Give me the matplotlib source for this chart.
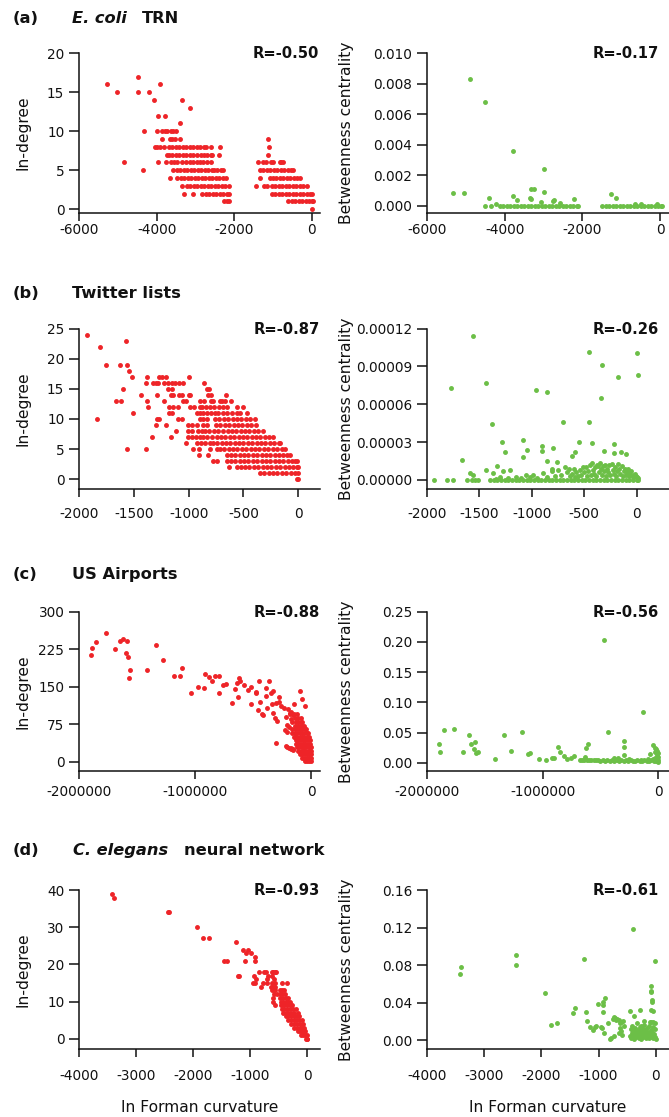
import matplotlib
matplotlib.use("Agg")
import matplotlib.pyplot as plt
from matplotlib.ticker import FixedLocator, FixedFormatter

RED = "#EE2428"
GREEN = "#6CBF47"

# ---------------- (a) E. coli TRN ----------------
# in-degree -> Forman curvature values of nodes with that in-degree
ecoli_indeg_rows = {
    17: [-4487],
    16: [-5290, -3923],
    15: [-5008, -4470, -4188],
    14: [-4077, -3340],
    13: [-3145],
    12: [-3966, -3795],
    11: [-3402],
    10: [-4316, -3992, -3848, -3784, -3720, -3633, -3569, -3505],
    9: [-3872, -3651, -3591, -3531, -3402, -1137],
    8: [-4043, -3980, -3900, -3820, -3676, -3590, -3500, -3410, -3320, -3230, -3140,
        -3050, -2960, -2870, -2780, -2735, -2607, -2369, -1103],
    7: [-3736, -3676, -3590, -3500, -3410, -3320, -3230, -3140, -3050, -2960, -2864,
        -2779, -2690, -2600, -2564, -2395, -1128],
    6: [-4838, -3975, -3761, -3633, -3550, -3461, -3333, -3240, -3150, -3060, -2970,
        -2880, -2790, -2700, -2607, -1385, -1248, -1188, -1051, -1000, -829, -786, -744],
    5: [-4342, -3564, -3480, -3390, -3300, -3210, -3120, -3030, -2940, -2850, -2760,
        -2670, -2580, -2523, -2436, -2350, -2282, -1342, -1250, -1160, -1070, -980,
        -890, -800, -710, -620, -530, -470],
    4: [-3659, -3461, -3370, -3280, -3190, -3100, -3010, -2920, -2830, -2740, -2650,
        -2560, -2470, -2380, -2290, -2197, -1342, -1085, -1000, -910, -820, -730,
        -640, -550, -460, -370, -300],
    3: [-3351, -3223, -3130, -3040, -2950, -2860, -2770, -2680, -2590, -2500, -2410,
        -2320, -2230, -2120, -1436, -1240, -1150, -1025, -940, -850, -760, -670,
        -580, -490, -400, -310, -220, -128],
    2: [-3282, -3051, -2820, -2730, -2640, -2550, -2460, -2370, -2280, -2190, -2120,
        -1025, -940, -850, -760, -670, -580, -490, -400, -310, -220, -130, -40, 0],
    1: [-2249, -2180, -2120, -600, -510, -420, -330, -240, -150, -60, 20, 43],
    0: [0],
}
# (curvature, betweenness)
ecoli_btw_points = [
    (-5332, 0.00085), (-5048, 0.00085), (-4885, 0.00832), (-4515, 0.0), (-4498, 0.0068),
    (-4395, 0.00053), (-4360, 0.0), (-4225, 0.0001), (-3784, 0.00359), (-3784, 0.00063),
    (-3680, 0.00035), (-3354, 0.00053), (-3311, 0.0011), (-3234, 0.0011), (-3320, 0.00044),
    (-3053, 0.00022), (-2976, 0.0024), (-2976, 0.0009), (-2752, 0.0003), (-2735, 0.0004),
    (-2571, 0.00015), (-2219, 0.00044), (-1273, 0.00079), (-1135, 0.00048), (-640, 0.0001),
    (-490, 0.0001), (-80, 0.0001),
]
# nodes with betweenness ~0 (curvature values)
ecoli_btw_zero = [-4130, -4040, -3950, -3860, -3770, -3680, -3590, -3500, -3410, -3320,
                  -3230, -3140, -3050, -2960, -2870, -2780, -2690, -2600, -2510, -2420,
                  -2330, -2240, -2150, -2124,
                  -1490, -1400, -1310, -1220, -1130, -1040, -950, -860, -770, -680, -590,
                  -500, -410, -320, -230, -140, -50, 20, 43]

# ---------------- (b) Twitter lists ----------------
twitter_indeg_rows = {
    24: [-1930],
    23: [-1572],
    22: [-1812],
    19: [-1751, -1626, -1563],
    18: [-1547],
    17: [-1520, -1380, -1274, -1240, -1207, -997],
    16: [-1392, -1325, -1301, -1277, -1225, -1190, -1155, -1120, -1085, -1055, -860],
    15: [-1596, -1186, -1155, -836, -812],
    14: [-1435, -1286, -1161, -1140, -1091, -1058, -1000, -988, -821, -800, -663],
    13: [-1666, -1620, -1380, -1222, -1049, -1027, -897, -860, -800, -774, -714, -693, -668, -616],
    12: [-1371, -1180, -1140, -1094, -988, -950, -897, -880, -843, -804, -765, -725, -683,
         -652, -556, -501],
    11: [-1505, -1180, -1155, -927, -895, -865, -834, -800, -759, -729, -690, -650, -607,
         -556, -531, -471],
    10: [-1839, -1286, -1271, -1094, -1064, -897, -865, -834, -759, -720, -680, -640, -600,
         -560, -520, -480, -440, -394],
    9: [-1298, -1207, -1003, -965, -927, -865, -834, -749, -710, -670, -630, -590, -550,
        -510, -470, -430, -385],
    8: [-1119, -1003, -965, -912, -882, -850, -810, -770, -730, -683, -645, -605, -565,
        -525, -485, -445, -405, -365, -319],
    7: [-1332, -1164, -1003, -965, -930, -897, -866, -834, -789, -743, -705, -665, -625,
        -585, -545, -505, -465, -425, -385, -345, -305, -265, -228],
    6: [-1024, -927, -890, -850, -806, -774, -743, -698, -660, -620, -580, -540, -500,
        -460, -420, -380, -340, -300, -260, -220, -180, -166],
    5: [-1563, -1392, -958, -903, -804, -745, -713, -675, -635, -595, -555, -515, -475,
        -435, -395, -355, -315, -275, -235, -195, -151, -122],
    4: [-903, -819, -654, -615, -575, -535, -495, -455, -415, -375, -335, -295, -255,
        -215, -175, -135, -100, -76],
    3: [-775, -745, -654, -615, -575, -535, -495, -455, -415, -375, -335, -295, -255,
        -215, -175, -135, -95, -55, -30, -14],
    2: [-629, -561, -525, -485, -445, -405, -365, -325, -285, -245, -205, -165, -125,
        -85, -45, -9, 0],
    1: [-350, -310, -270, -230, -190, -150, -110, -70, -30, 0],
    0: [-15, 0],
}
# (curvature, betweenness in units of 1e-6)
twitter_btw_points = [
    (-1774, 73.2), (-1663, 16.1), (-1593, 5.3), (-1565, 4.2), (-1558, 114.2), (-1441, 77.2),
    (-1437, 8.2), (-1383, 44.1), (-1367, 5.8), (-1329, 11.1), (-1285, 30.1), (-1272, 7.4),
    (-1256, 22.2), (-1205, 7.9), (-1088, 32.0), (-1088, 18.2), (-1049, 24.0), (-1056, 4.2),
    (-993, 4.2), (-960, 71.1), (-903, 27.2), (-903, 23.0), (-897, 5.5), (-859, 70.0),
    (-852, 15.1), (-795, 25.1), (-811, 8.5), (-805, 7.4), (-763, 14.0), (-700, 46.3),
    (-747, 7.9), (-680, 10.6), (-650, 8.5), (-617, 19.3), (-588, 22.2), (-547, 30.1),
    (-455, 101.2), (-455, 46.3), (-426, 29.3), (-343, 65.3), (-331, 91.2), (-315, 23.3),
    (-216, 28.3), (-219, 21.4), (-181, 81.2), (-146, 22.2), (-102, 20.4), (0, 100.2), (16, 83.0),
    (-1340, 1), (-1300, 2), (-1230, 1.5), (-1150, 2), (-1100, 1.5), (-1020, 2.5), (-950, 1.5),
    (-860, 2), (-780, 3), (-720, 4), (-665, 6), (-640, 3), (-620, 5), (-600, 9), (-590, 2),
    (-575, 6), (-560, 3), (-545, 8), (-530, 4), (-515, 10), (-500, 6), (-487, 10.6), (-475, 3),
    (-460, 7), (-450, 12), (-440, 4), (-429, 13.2), (-420, 8), (-410, 5), (-400, 10), (-390, 3),
    (-380, 12), (-366, 11), (-355, 6), (-350, 13.7), (-340, 9), (-330, 4), (-320, 11), (-310, 7),
    (-300, 12), (-290, 3), (-280, 9), (-270, 6), (-260, 12), (-250, 4), (-238, 12.7), (-228, 8),
    (-215, 5), (-205, 10), (-195, 3), (-185, 7), (-175, 13), (-165, 9), (-155, 5), (-145, 11),
    (-135, 3), (-125, 7), (-115, 8.5), (-105, 4), (-95, 6), (-85, 9), (-75, 3), (-65, 5),
    (-50, 7), (-40, 2), (-30, 4), (-20, 5), (-10, 3), (0, 2), (8, 1.5),
]
twitter_btw_zero = [-1930, -1806, -1749, -1622, -1574, -1540, -1510,
                    -1400, -1365, -1330, -1295, -1260, -1225, -1190, -1155, -1120, -1085, -1050,
                    -1015, -980, -945, -910, -875, -840, -805, -770, -735, -700, -665, -630,
                    -595, -560, -525, -490, -455, -420, -385, -350, -315, -280, -245, -210,
                    -175, -140, -105, -70, -35, 0, 10]

# ---------------- (c) US Airports (curvature in thousands) ----------------
airport_indeg_points = [
    (-1897, 214), (-1891, 227), (-1854, 240), (-1770, 257), (-1693, 226), (-1644, 241),
    (-1621, 245), (-1589, 241), (-1595, 217), (-1578, 210), (-1561, 183), (-1569, 167),
    (-1417, 183), (-1336, 233), (-1279, 203), (-1184, 171), (-1127, 171), (-1115, 188),
    (-1035, 137), (-977, 150), (-923, 147), (-917, 176), (-877, 170), (-854, 161),
    (-825, 172), (-790, 172), (-793, 137), (-759, 153), (-733, 155), (-681, 118),
    (-658, 145), (-638, 158), (-629, 130), (-621, 168), (-609, 162), (-575, 153),
    (-540, 143), (-514, 150), (-520, 116), (-477, 140), (-470, 137), (-457, 103),
    (-445, 162), (-437, 119), (-422, 96), (-414, 94), (-391, 131), (-391, 147),
    (-382, 107), (-359, 162), (-345, 138), (-336, 115), (-330, 141), (-325, 97),
    (-310, 87), (-296, 81), (-305, 37), (-299, 117), (-279, 130), (-273, 119),
    (-256, 112), (-236, 107), (-227, 63), (-218, 90), (-213, 32), (-204, 73),
    (-181, 97), (-175, 27), (-167, 57), (-152, 93), (-144, 115), (-152, 25),
    (-98, 141), (-80, 125), (-49, 111),
    (-200, 105), (-185, 95), (-170, 100), (-175, 85), (-160, 80), (-190, 70), (-210, 60),
    (-165, 65), (-150, 50), (-210, 30), (-190, 28), (-175, 25), (-155, 23),
    (-150, 95), (-120, 95), (-135, 88), (-110, 88), (-90, 88),
    (-130, 80), (-110, 80), (-90, 80), (-75, 80),
    (-135, 72), (-115, 72), (-95, 72), (-75, 72), (-60, 72),
    (-135, 65), (-115, 65), (-95, 65), (-75, 65), (-55, 65), (-45, 65),
    (-138, 58), (-118, 58), (-98, 58), (-78, 58), (-58, 58), (-38, 58), (-25, 58),
    (-138, 50), (-118, 50), (-98, 50), (-78, 50), (-58, 50), (-38, 50), (-18, 50),
    (-132, 43), (-112, 43), (-92, 43), (-72, 43), (-52, 43), (-32, 43), (-12, 43),
    (-128, 36), (-108, 36), (-88, 36), (-68, 36), (-48, 36), (-28, 36), (-8, 36),
    (-120, 29), (-100, 29), (-80, 29), (-60, 29), (-40, 29), (-20, 29), (0, 29),
    (-108, 22), (-88, 22), (-68, 22), (-48, 22), (-28, 22), (-8, 22), (3, 22),
    (-95, 15), (-75, 15), (-55, 15), (-35, 15), (-15, 15), (2, 15),
    (-78, 8), (-58, 8), (-38, 8), (-18, 8), (0, 8),
    (-55, 2), (-35, 2), (-15, 2), (0, 2),
]
airport_btw_points = [
    (-1893, 0.0309), (-1888, 0.0182), (-1853, 0.0541), (-1770, 0.0552), (-1692, 0.0182),
    (-1640, 0.0464), (-1620, 0.0309), (-1588, 0.0348), (-1594, 0.0226), (-1576, 0.0155),
    (-1559, 0.0182), (-1409, 0.0055), (-1331, 0.0464), (-1277, 0.0193), (-1179, 0.0502),
    (-1124, 0.0143), (-1110, 0.0155), (-1029, 0.0055), (-974, 0.0044), (-916, 0.0072),
    (-905, 0.0077), (-870, 0.0265), (-850, 0.0182), (-818, 0.011), (-787, 0.0055),
    (-752, 0.0083), (-726, 0.011), (-634, 0.0099), (-622, 0.0243), (-608, 0.0315),
    (-470, 0.2031), (-438, 0.0502), (-300, 0.0353), (-300, 0.0254), (-300, 0.0127),
    (-135, 0.0844), (-72, 0.0143), (-43, 0.0293), (-30, 0.024), (-20, 0.022), (-25, 0.018),
    (-677, 0.005), (-660, 0.004), (-640, 0.005), (-620, 0.004), (-600, 0.004), (-580, 0.005),
    (-560, 0.004), (-540, 0.004), (-520, 0.005), (-500, 0.003), (-480, 0.004), (-460, 0.003),
    (-440, 0.004), (-420, 0.003), (-400, 0.004), (-380, 0.003), (-360, 0.004), (-340, 0.002),
    (-320, 0.005), (-300, 0.003), (-280, 0.004), (-260, 0.002), (-240, 0.004), (-220, 0.003),
    (-200, 0.002), (-180, 0.004), (-160, 0.003), (-140, 0.002), (-120, 0.004), (-100, 0.003),
    (-80, 0.002), (-60, 0.004), (-40, 0.002), (-20, 0.003), (0, 0.001), (-30, 0.008),
    (-15, 0.012), (-10, 0.006), (-5, 0.016), (-8, 0.02), (0, 0.01), (-2, 0.004), (-25, 0.005),
    (-50, 0.006), (-90, 0.006), (-150, 0.005), (-250, 0.006), (-350, 0.007), (-380, 0.008),
]

# ---------------- (d) C. elegans neural network ----------------
celegans_indeg_rows = {
    39: [-3422],
    38: [-3393],
    34: [-2447, -2429],
    30: [-1933],
    27: [-1828, -1723],
    26: [-1250],
    24: [-1133, -1040],
    23: [-1075, -993],
    22: [-923],
    21: [-1454, -1402, -1092, -911],
    18: [-841, -753, -730, -625, -600, -570, -543],
    17: [-1220, -1203, -928, -683, -620],
    16: [-899, -712, -590],
    15: [-946, -923, -783, -700, -620, -560, -438, -356],
    14: [-806, -640, -600, -570],
    13: [-620, -590, -560, -480, -440, -400],
    12: [-590, -530, -479, -440, -391],
    11: [-600, -470, -420, -370, -340],
    10: [-607, -465, -420, -380, -340, -300],
    9: [-561, -455, -410, -360, -310, -260],
    8: [-450, -400, -350, -300, -250, -200],
    7: [-430, -380, -330, -280, -230, -170],
    6: [-380, -330, -280, -230, -180, -140],
    5: [-340, -290, -240, -190, -140, -100],
    4: [-280, -230, -180, -130, -80],
    3: [-230, -180, -130, -90, -55],
    2: [-170, -130, -90, -60, -35],
    1: [-110, -70, -40, -10],
    0: [-30, -10, 0],
}
celegans_btw_points = [
    (-3428, 0.0706), (-3399, 0.0784), (-2447, 0.0912), (-2447, 0.0802), (-1939, 0.0507),
    (-1834, 0.0163), (-1723, 0.0181), (-1454, 0.0291), (-1413, 0.0341), (-1256, 0.0869),
    (-1221, 0.0298), (-1209, 0.0209), (-1145, 0.0142), (-1104, 0.0114), (-1069, 0.0138),
    (-1040, 0.0153), (-1005, 0.039), (-929, 0.0376), (-917, 0.0408), (-929, 0.0298),
    (-964, 0.014), (-934, 0.0128), (-905, 0.0082), (-882, 0.045), (-841, 0.0184),
    (-794, 0.001), (-777, 0.002), (-753, 0.023), (-735, 0.025), (-720, 0.024), (-700, 0.022),
    (-683, 0.023), (-724, 0.0043), (-642, 0.022), (-625, 0.018), (-625, 0.013), (-640, 0.008),
    (-610, 0.01), (-600, 0.02), (-590, 0.006), (-575, 0.021), (-560, 0.015), (-455, 0.0312),
    (-391, 0.1185), (-380, 0.0259), (-280, 0.0326), (-82, 0.058), (-82, 0.052), (-78, 0.053),
    (-58, 0.043), (-58, 0.041), (-82, 0.032), (-41, 0.031), (-12, 0.0848),
    (-450, 0.005), (-440, 0.012), (-430, 0.002), (-420, 0.008), (-410, 0.015), (-400, 0.004),
    (-390, 0.01), (-380, 0.001), (-370, 0.006), (-360, 0.013), (-350, 0.003), (-340, 0.009),
    (-330, 0.018), (-320, 0.005), (-310, 0.011), (-300, 0.002), (-290, 0.007), (-280, 0.014),
    (-270, 0.004), (-260, 0.01), (-250, 0.001), (-240, 0.006), (-230, 0.012), (-220, 0.003),
    (-210, 0.009), (-200, 0.016), (-190, 0.005), (-180, 0.011), (-170, 0.002), (-160, 0.007),
    (-150, 0.013), (-140, 0.004), (-130, 0.009), (-120, 0.015), (-110, 0.002), (-100, 0.007),
    (-90, 0.011), (-80, 0.019), (-70, 0.004), (-60, 0.009), (-50, 0.014), (-40, 0.002),
    (-30, 0.007), (-20, 0.012), (-10, 0.004), (0, 0.001), (-15, 0.018), (-45, 0.02),
    (-100, 0.019), (-200, 0.021), (-330, 0.009), (-250, 0.015),
]

r_left = ["R=-0.50", "R=-0.87", "R=-0.88", "R=-0.93"]
r_right = ["R=-0.17", "R=-0.26", "R=-0.56", "R=-0.61"]


def rows_to_xy(rows):
    xs, ys = [], []
    for k, vals in rows.items():
        for v in vals:
            xs.append(v)
            ys.append(k)
    return xs, ys


def pairs_to_xy(pairs, xscale=1.0, yscale=1.0):
    return [p[0] * xscale for p in pairs], [p[1] * yscale for p in pairs]


W, H = 669, 1117
plt.rcParams['font.family'] = ['DejaVu Sans']
fig = plt.figure(figsize=(W / 100, H / 100), dpi=100)

TICK_FS = 9.8
LAB_FS = 11.2
TITLE_FS = 11.7
R_FS = 10.6
INK = "#111111"


def make_axes(x0, w, top, bottom, xpad):
    ax = fig.add_axes([x0 / W, 1 - bottom / H, w / W, (bottom - top) / H])
    for s in ("top", "right"):
        ax.spines[s].set_visible(False)
    for s in ("left", "bottom"):
        ax.spines[s].set_linewidth(1.1)
        ax.spines[s].set_color(INK)
    ax.tick_params(axis="y", direction="out", length=7, width=1.1, labelsize=TICK_FS, pad=3.5,
                   color=INK, labelcolor=INK)
    ax.tick_params(axis="x", direction="out", length=5.5, width=1.1, labelsize=TICK_FS,
                   pad=xpad, color=INK, labelcolor=INK)
    ax.patch.set_alpha(0)
    return ax


def set_ticks(ax, xt, xl, yt, yl):
    ax.xaxis.set_major_locator(FixedLocator(xt))
    ax.xaxis.set_major_formatter(FixedFormatter(xl))
    ax.yaxis.set_major_locator(FixedLocator(yt))
    ax.yaxis.set_major_formatter(FixedFormatter(yl))


MS = 12.5
rows = [(53.3, 212.7), (328.5, 489.2), (611.7, 771.1), (890.2, 1049.2)]
xpads = [1.6, 7.0, 4.6, 8.5]
LX0, LW = 79, 241
RX0, RW = 427, 242

axes_left = []
axes_right = []
for i, (top, bot) in enumerate(rows):
    axes_left.append(make_axes(LX0, LW, top, bot, xpads[i]))
    axes_right.append(make_axes(RX0, RW, top, bot, xpads[i]))

# (a)
ax = axes_left[0]
x, y = rows_to_xy(ecoli_indeg_rows)
ax.scatter(x, y, s=MS, c=RED, linewidths=0, zorder=3)
ax.set_xlim(-6000, 214)
ax.set_ylim(-0.436, 20)
set_ticks(ax, [-6000, -4000, -2000, 0], ["-6000", "-4000", "-2000", "0"],
          [0, 5, 10, 15, 20], ["0", "5", "10", "15", "20"])
ax = axes_right[0]
x, y = pairs_to_xy(ecoli_btw_points)
ax.scatter(x + ecoli_btw_zero, y + [0.0] * len(ecoli_btw_zero), s=MS, c=GREEN,
           linewidths=0, zorder=3)
ax.set_xlim(-6000, 232)
ax.set_ylim(-0.00046, 0.010)
set_ticks(ax, [-6000, -4000, -2000, 0], ["-6000", "-4000", "-2000", "0"],
          [0, 0.002, 0.004, 0.006, 0.008, 0.010],
          ["0.000", "0.002", "0.004", "0.006", "0.008", "0.010"])

# (b)
ax = axes_left[1]
x, y = rows_to_xy(twitter_indeg_rows)
ax.scatter(x, y, s=MS, c=RED, linewidths=0, zorder=3)
ax.set_xlim(-2000, 198)
ax.set_ylim(-1.64, 25)
set_ticks(ax, [-2000, -1500, -1000, -500, 0], ["-2000", "-1500", "-1000", "-500", "0"],
          [0, 5, 10, 15, 20, 25], ["0", "5", "10", "15", "20", "25"])
ax = axes_right[1]
x, y = pairs_to_xy(twitter_btw_points, 1.0, 1e-6)
ax.scatter(x + twitter_btw_zero, y + [0.0] * len(twitter_btw_zero), s=MS, c=GREEN,
           linewidths=0, zorder=3)
ax.set_xlim(-2000, 308)
ax.set_ylim(-7.3e-6, 0.00012)
set_ticks(ax, [-2000, -1500, -1000, -500, 0], ["-2000", "-1500", "-1000", "-500", "0"],
          [0, 0.00003, 0.00006, 0.00009, 0.00012],
          ["0.00000", "0.00003", "0.00006", "0.00009", "0.00012"])

# (c)
ax = axes_left[2]
x, y = pairs_to_xy(airport_indeg_points, 1000.0, 1.0)
ax.scatter(x, y, s=MS, c=RED, linewidths=0, zorder=3)
ax.set_xlim(-2000000, 77600)
ax.set_ylim(-18.8, 300)
set_ticks(ax, [-2000000, -1000000, 0], ["-2000000", "-1000000", "0"],
          [0, 75, 150, 225, 300], ["0", "75", "150", "225", "300"])
ax = axes_right[2]
x, y = pairs_to_xy(airport_btw_points, 1000.0, 1.0)
ax.scatter(x, y, s=MS, c=GREEN, linewidths=0, zorder=3)
ax.set_xlim(-2000000, 92500)
ax.set_ylim(-0.0139, 0.25)
set_ticks(ax, [-2000000, -1000000, 0], ["-2000000", "-1000000", "0"],
          [0, 0.05, 0.10, 0.15, 0.20, 0.25], ["0.00", "0.05", "0.10", "0.15", "0.20", "0.25"])

# (d)
ax = axes_left[3]
x, y = rows_to_xy(celegans_indeg_rows)
ax.scatter(x, y, s=MS, c=RED, linewidths=0, zorder=3)
ax.set_xlim(-4000, 222)
ax.set_ylim(-2.83, 40)
set_ticks(ax, [-4000, -3000, -2000, -1000, 0], ["-4000", "-3000", "-2000", "-1000", "0"],
          [0, 10, 20, 30, 40], ["0", "10", "20", "30", "40"])
ax = axes_right[3]
x, y = pairs_to_xy(celegans_btw_points)
ax.scatter(x, y, s=MS, c=GREEN, linewidths=0, zorder=3)
ax.set_xlim(-4000, 233)
ax.set_ylim(-0.0095, 0.16)
set_ticks(ax, [-4000, -3000, -2000, -1000, 0], ["-4000", "-3000", "-2000", "-1000", "0"],
          [0, 0.04, 0.08, 0.12, 0.16], ["0.00", "0.04", "0.08", "0.12", "0.16"])

# y labels and R values
for i, (top, bot) in enumerate(rows):
    yc = 1 - (top + bot) / 2 / H
    fig.text(23.3 / W, yc, "In-degree", rotation=90, ha="center", va="center",
             fontsize=LAB_FS, color=INK)
    fig.text(346.7 / W, yc, "Betweenness centrality", rotation=90, ha="center", va="center",
             fontsize=LAB_FS, color=INK)
    fig.text(319.5 / W, 1 - (top + 5) / H, r_left[i], ha="right", va="baseline",
             fontsize=R_FS, fontweight="bold", color=INK)
    fig.text(658.5 / W, 1 - (top + 5) / H, r_right[i], ha="right", va="baseline",
             fontsize=R_FS, fontweight="bold", color=INK)

# x labels
fig.text((LX0 + LW / 2) / W, 1 - 1112.5 / H, "In Forman curvature", ha="center", va="baseline",
         fontsize=LAB_FS, color=INK)
fig.text((RX0 + RW / 2) / W, 1 - 1112.5 / H, "In Forman curvature", ha="center", va="baseline",
         fontsize=LAB_FS, color=INK)

# panel titles
title_base = [23.3, 298.3, 579.3, 855.0]
letters = ["(a)", "(b)", "(c)", "(d)"]
for i, yb in enumerate(title_base):
    fig.text(13 / W, 1 - yb / H, letters[i], ha="left", va="baseline", fontsize=TITLE_FS,
             fontweight="bold", color=INK)
fig.text(72 / W, 1 - title_base[0] / H, "E. coli", ha="left", va="baseline", fontsize=TITLE_FS,
         fontweight="bold", style="italic", color=INK)
fig.text(142 / W, 1 - title_base[0] / H, "TRN", ha="left", va="baseline", fontsize=TITLE_FS,
         fontweight="bold", color=INK)
fig.text(72 / W, 1 - title_base[1] / H, "Twitter lists", ha="left", va="baseline",
         fontsize=TITLE_FS, fontweight="bold", color=INK)
fig.text(72 / W, 1 - title_base[2] / H, "US Airports", ha="left", va="baseline",
         fontsize=TITLE_FS, fontweight="bold", color=INK)
fig.text(72.7 / W, 1 - title_base[3] / H, "C. elegans", ha="left", va="baseline",
         fontsize=TITLE_FS, fontweight="bold", style="italic", color=INK)
fig.text(184 / W, 1 - title_base[3] / H, "neural network", ha="left", va="baseline",
         fontsize=TITLE_FS, fontweight="bold", color=INK)

fig.savefig("out.png", dpi=100, facecolor="white")
